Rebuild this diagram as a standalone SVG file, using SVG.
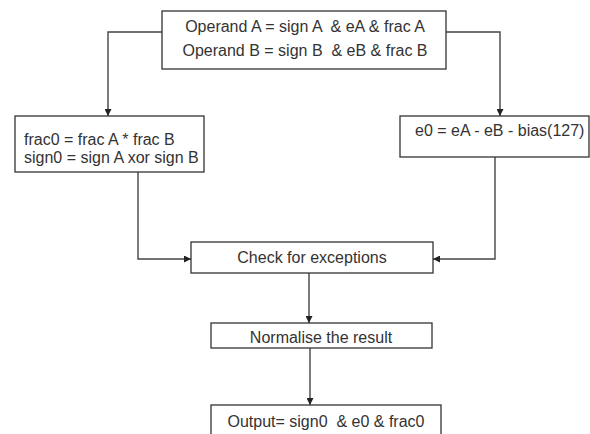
<svg xmlns="http://www.w3.org/2000/svg" width="590" height="434" viewBox="0 0 590 434">
<style>
.box{fill:#fff;stroke:#333;stroke-width:1.3}
.t{font-family:"Liberation Sans",Arial,sans-serif;font-size:16px;fill:#333;white-space:pre}
.c{text-anchor:middle}
.e{fill:none;stroke:#444;stroke-width:1.4}
</style>
<defs>
<marker id="ah" viewBox="0 0 10 10" refX="10" refY="5" markerWidth="7" markerHeight="7" markerUnits="userSpaceOnUse" orient="auto">
<path d="M0,0 L10,5 L0,10 z" fill="#222"/>
</marker>
</defs>
<rect width="590" height="434" fill="#fff"/>
<g id="connectors">
<path class="e" d="M162,32 H108 V116" marker-end="url(#ah)"/>
<path class="e" d="M446,32 H500 V116" marker-end="url(#ah)"/>
<path class="e" d="M138,172 V259 H191" marker-end="url(#ah)"/>
<path class="e" d="M495,157 V259 H433" marker-end="url(#ah)"/>
<path class="e" d="M309,273 V323" marker-end="url(#ah)"/>
<path class="e" d="M310,348 V405" marker-end="url(#ah)"/>
</g>
<g id="operands">
<rect class="box" x="162" y="11" width="284" height="58"/>
<text class="t c" x="305" y="32">Operand A = sign A  &amp; eA &amp; frac A</text>
<text class="t c" x="305" y="56">Operand B = sign B  &amp; eB &amp; frac B</text>
</g>
<g id="frac-sign">
<rect class="box" x="15" y="116" width="189" height="56"/>
<text class="t" x="24" y="145">frac0 = frac A * frac B</text>
<text class="t" x="24" y="163">sign0 = sign A xor sign B</text>
</g>
<g id="exponent">
<rect class="box" x="400" y="116" width="189" height="41"/>
<text class="t" x="415" y="136">e0 = eA - eB - bias(127)</text>
</g>
<g id="check">
<rect class="box" x="191" y="242" width="242" height="31"/>
<text class="t c" x="312" y="263">Check for exceptions</text>
</g>
<g id="normalise">
<rect class="box" x="211" y="323" width="221" height="25"/>
<text class="t c" x="321" y="343">Normalise the result</text>
</g>
<g id="output">
<rect class="box" x="211" y="405" width="230" height="40"/>
<text class="t c" x="326" y="427">Output= sign0  &amp; e0 &amp; frac0</text>
</g>
</svg>
